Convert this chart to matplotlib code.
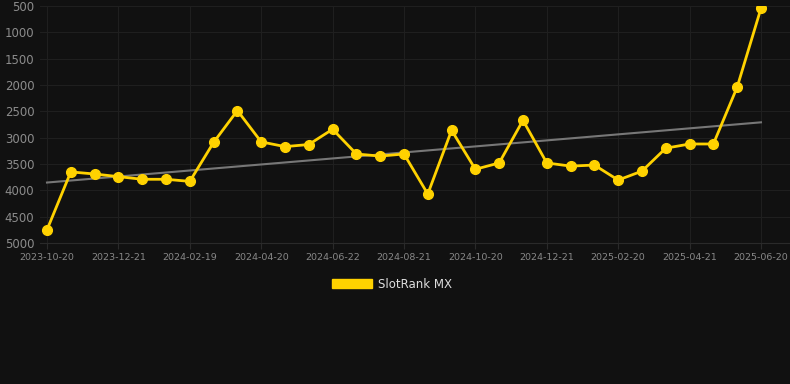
import numpy as np
import matplotlib
matplotlib.use('Agg')
from matplotlib import pyplot as plt
from matplotlib.patches import Patch

# Monthly rank values (lower is better, axis inverted)
dates = ['2023-10-20', '2023-11-20', '2023-12-20', '2023-12-21', '2024-01-20', '2024-01-21',
         '2024-02-19', '2024-03-20', '2024-03-21', '2024-04-20', '2024-05-21', '2024-05-22',
         '2024-06-22', '2024-07-21', '2024-07-22', '2024-08-21', '2024-09-20', '2024-09-21',
         '2024-10-20', '2024-11-20', '2024-11-21', '2024-12-21', '2025-01-20', '2025-01-21',
         '2025-02-20', '2025-03-21', '2025-03-22', '2025-04-21', '2025-05-21', '2025-05-22',
         '2025-06-20']
ranks = [4750, 3650, 3690, 3740, 3790, 3790, 3830, 3090, 2485, 3080, 3170, 3130,
         2840, 3310, 3350, 3310, 4070, 2860, 3600, 3480, 2670, 3480, 3540, 3520,
         3805, 3635, 3200, 3120, 3120, 2040, 545]
series_name = 'SlotRank MX'
y_ticks = [500, 1000, 1500, 2000, 2500, 3000, 3500, 4000, 4500, 5000]

bg = '#111111'
yellow = '#FFD200'

fig = plt.figure(figsize=(7.9, 3.84), dpi=100, facecolor=bg)
ax = fig.add_axes([40/790, (384-243)/384, 750/790, 237/384], facecolor=bg)

x = np.arange(len(ranks))

# Linear trend
coef = np.polyfit(x, ranks, 1)
ax.plot(x, np.polyval(coef, x), color='#777777', lw=1.5, zorder=2)

ax.plot(x, ranks, color=yellow, lw=2.0, marker='o', ms=7, zorder=3)

ax.set_ylim(5000, 500)
ax.set_yticks(y_ticks)
ax.set_yticklabels([str(t) for t in y_ticks])
ax.set_xlim(-0.294, 31.22)
tick_idx = list(range(0, len(dates), 3))
ax.set_xticks(tick_idx)
ax.set_xticklabels([dates[i] for i in tick_idx])

ax.grid(True, color='#1f1f1f', lw=0.8)
ax.set_axisbelow(True)
for s in ax.spines.values():
    s.set_visible(False)
ax.spines['bottom'].set_visible(True)
ax.spines['bottom'].set_color('#2a2a2a')
ax.spines['bottom'].set_linewidth(0.8)
ax.tick_params(axis='y', length=0, pad=4, labelsize=8.5, labelcolor='#8c8c8c')
ax.tick_params(axis='x', length=4, width=0.8, color='#2a2a2a', pad=3,
               labelsize=6.8, labelcolor='#888888')

fig.legend(handles=[Patch(color=yellow, label=series_name)],
           loc='center', bbox_to_anchor=(392/790, 1 - 284/384),
           frameon=False, handlelength=3.4, handleheight=0.85,
           fontsize=8.5, labelcolor='#dddddd', handletextpad=0.5)

fig.savefig('out.png', dpi=100, facecolor=bg)
